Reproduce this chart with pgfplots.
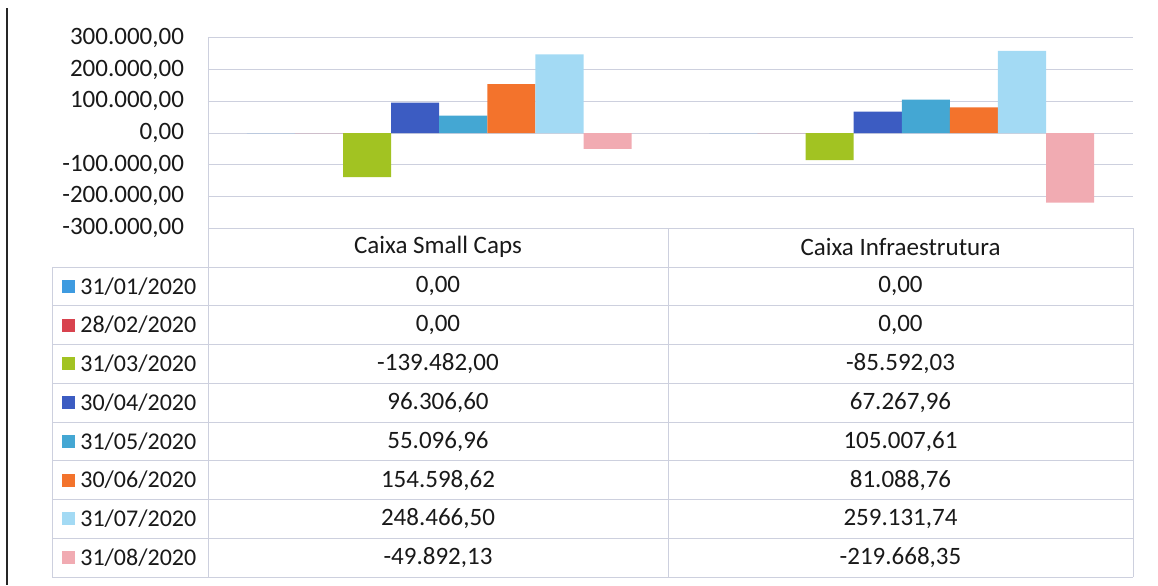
\documentclass[border=0pt]{standalone}
\usepackage{fontspec}
\setmainfont{Carlito}
\usepackage{pgfplots}
\pgfplotsset{compat=1.18}
\definecolor{cJan}{HTML}{3E9BE0}
\definecolor{cFeb}{HTML}{D8434E}
\definecolor{cMar}{HTML}{A2C322}
\definecolor{cApr}{HTML}{3C5CC2}
\definecolor{cMay}{HTML}{44A7D3}
\definecolor{cJun}{HTML}{F3732C}
\definecolor{cJul}{HTML}{A3DAF4}
\definecolor{cAug}{HTML}{F1ABB2}
\definecolor{gridc}{HTML}{CDD0DE}

\begin{document}
\begin{tikzpicture}[x=0.5pt, y=-0.5pt]
\useasboundingbox (0,0) rectangle (1158,585);
\coordinate (plotSW) at (208,228);
\begin{axis}[
  at={(plotSW)}, anchor=south west,
  scale only axis, width=462.5pt, height=95pt,
  xmin=0, xmax=2, ymin=-300000, ymax=300000,
  ytick={-300000,-200000,-100000,0,100000,200000,300000},
  xtick=\empty,
  scaled y ticks=false,
  ymajorgrids, grid style={gridc, line width=0.5pt},
  axis line style={draw=none},
  major tick length=0pt,
  clip=false,
  yticklabel style={font=\fontsize{12.5}{14}\selectfont, text=black!90, xshift=-8.5pt},
  /pgf/number format/fixed,
  /pgf/number format/fixed zerofill,
  /pgf/number format/precision=2,
  /pgf/number format/use comma,
  /pgf/number format/1000 sep={.},
  /pgf/number format/assume math mode=true,
  every axis plot/.append style={ybar, bar width=0.104, draw=none},
]
% 31/01/2020 .. 31/08/2020, Caixa Small Caps at x=0.5, Caixa Infraestrutura at x=1.5
\addplot[fill=cJan, bar shift=-0.364] coordinates {(0.5,0) (1.5,0)};
\addplot[fill=cFeb, bar shift=-0.260] coordinates {(0.5,0) (1.5,0)};
\addplot[fill=cMar, bar shift=-0.156] coordinates {(0.5,-139482.00) (1.5,-85592.03)};
\addplot[fill=cApr, bar shift=-0.052] coordinates {(0.5,96306.60) (1.5,67267.96)};
\addplot[fill=cMay, bar shift=0.052] coordinates {(0.5,55096.96) (1.5,105007.61)};
\addplot[fill=cJun, bar shift=0.156] coordinates {(0.5,154598.62) (1.5,81088.76)};
\addplot[fill=cJul, bar shift=0.260] coordinates {(0.5,248466.50) (1.5,259131.74)};
\addplot[fill=cAug, bar shift=0.364] coordinates {(0.5,-49892.13) (1.5,-219668.35)};
\end{axis}

% scan border
\draw[black!85, line width=1.1pt] (7,8) -- (7,585);

% data table
\draw[gridc, line width=0.5pt] (208,38) -- (208,577);
\draw[gridc, line width=0.5pt] (668,228) -- (668,577);
\draw[gridc, line width=0.5pt] (1133,228) -- (1133,577);
\draw[gridc, line width=0.5pt] (52,267) -- (52,577);
\foreach \k in {0,...,8} {
  \draw[gridc, line width=0.5pt] (52,267+38.75*\k) -- (1133,267+38.75*\k);
}
\tikzset{tt/.style={font=\fontsize{12.5}{14}\selectfont, text=black!90, inner sep=0pt}}
\node[tt] at (438,247) {Caixa Small Caps};
\node[tt] at (900.5,247) {Caixa Infraestrutura};
\foreach \d/\c/\a/\b [count=\i from 0] in {
  {31/01/2020}/cJan/{0,00}/{0,00},
  {28/02/2020}/cFeb/{0,00}/{0,00},
  {31/03/2020}/cMar/{-139.482,00}/{-85.592,03},
  {30/04/2020}/cApr/{96.306,60}/{67.267,96},
  {31/05/2020}/cMay/{55.096,96}/{105.007,61},
  {30/06/2020}/cJun/{154.598,62}/{81.088,76},
  {31/07/2020}/cJul/{248.466,50}/{259.131,74},
  {31/08/2020}/cAug/{-49.892,13}/{-219.668,35}} {
  \pgfmathsetmacro{\cy}{267+38.75*(\i+0.5)}
  \fill[\c] (62,\cy-6.5) rectangle (75,\cy+6.5);
  \node[tt, anchor=west, font=\fontsize{12}{14}\selectfont] at (80,\cy) {\d};
  \node[tt] at (438,\cy) {\a};
  \node[tt] at (900.5,\cy) {\b};
}
\end{tikzpicture}
\end{document}
